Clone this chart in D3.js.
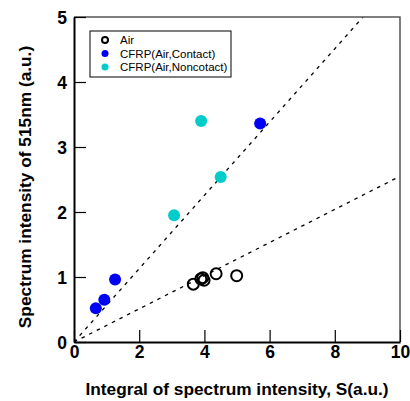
<!doctype html>
<html>
<head>
<meta charset="utf-8">
<script src="https://cdn.jsdelivr.net/npm/d3@7"></script>
<style>
  html, body { margin: 0; background: #fff; }
  svg { font-family: "Liberation Sans", Arial, sans-serif; }
</style>
</head>
<body>
<div id="chart"></div>
<script>
// data
const airX = [3.66, 3.89, 3.99, 3.95, 4.36, 4.99];
const airY = [0.89, 0.97, 0.95, 0.99, 1.05, 1.02];
const contactX = [0.67, 0.93, 1.26, 5.71];
const contactY = [0.52, 0.65, 0.96, 3.36];
const noncontactX = [3.07, 4.50, 3.90];
const noncontactY = [1.95, 2.54, 3.40];
const fitSlopes = [0.564, 0.255];
const xTicks = [0, 2, 4, 6, 8, 10];
const yTicks = [0, 1, 2, 3, 4, 5];
const legendNames = ["Air", "CFRP(Air,Contact)", "CFRP(Air,Noncotact)"];

const width = 410, height = 401;
const margin = {left: 74, right: 10, top: 17, bottom: 59};

const svg = d3.select("#chart").append("svg")
    .attr("width", width)
    .attr("height", height);

const x = d3.scaleLinear().domain([0, 10]).range([margin.left, width - margin.right]);
const y = d3.scaleLinear().domain([0, 5]).range([height - margin.bottom, margin.top]);

// fit lines through origin, clipped to plot
svg.append("clipPath").attr("id", "plot")
  .append("rect")
    .attr("x", x(0)).attr("y", y(5))
    .attr("width", x(10) - x(0)).attr("height", y(0) - y(5));

const line = d3.line().x(d => x(d[0])).y(d => y(d[1]));
svg.append("g").attr("clip-path", "url(#plot)")
  .selectAll("path")
  .data(fitSlopes)
  .join("path")
    .attr("d", k => line([[0, 0], [10, 10 * k]]))
    .attr("fill", "none")
    .attr("stroke", "#000")
    .attr("stroke-width", 1.3)
    .attr("stroke-dasharray", "3.5,5");

// frame: top and right lighter
svg.append("path")
    .attr("d", `M${x(0)},${y(5)}H${x(10)}V${y(0)}`)
    .attr("fill", "none")
    .attr("stroke", "#555")
    .attr("stroke-width", 1.5);

// axes with inward ticks
const fmt = d3.format("d");
const xAxis = svg.append("g")
    .attr("transform", `translate(0,${y(0)})`)
    .call(d3.axisBottom(x).tickValues(xTicks).tickFormat(fmt).tickSize(-12).tickPadding(16).tickSizeOuter(0));
const yAxis = svg.append("g")
    .attr("transform", `translate(${x(0)},0)`)
    .call(d3.axisLeft(y).tickValues(yTicks).tickFormat(fmt).tickSize(-12).tickPadding(18).tickSizeOuter(0));

for (const ax of [xAxis, yAxis]) {
  ax.attr("font-family", null);
  ax.select(".domain").attr("stroke", "#000").attr("stroke-width", 2);
  ax.selectAll(".tick line").attr("stroke", "#000").attr("stroke-width", 1.2);
  ax.selectAll(".tick text")
      .attr("fill", "#000")
      .style("font-size", "17.5px")
      .style("font-weight", "bold");
}
xAxis.selectAll(".tick text").attr("y", 3).attr("dy", "0.75em");
yAxis.selectAll(".tick text").attr("x", -7).attr("dy", "0.36em");

// axis titles
svg.append("text")
    .attr("x", 237).attr("y", 395)
    .attr("text-anchor", "middle")
    .style("font-size", "17.3px").style("font-weight", "bold")
    .text("Integral of spectrum intensity, S(a.u.)");
svg.append("text")
    .attr("transform", "translate(31,187) rotate(-90)")
    .attr("text-anchor", "middle")
    .style("font-size", "17.3px").style("font-weight", "bold")
    .text("Spectrum intensity of 515nm (a.u.)");

// points
svg.append("g").selectAll("circle")
  .data(airX.map((v, i) => [v, airY[i]]))
  .join("circle")
    .attr("cx", d => x(d[0])).attr("cy", d => y(d[1]))
    .attr("r", 5.5)
    .attr("fill", "none")
    .attr("stroke", "#000")
    .attr("stroke-width", 2);

svg.append("g").selectAll("circle")
  .data(contactX.map((v, i) => [v, contactY[i]]))
  .join("circle")
    .attr("cx", d => x(d[0])).attr("cy", d => y(d[1]))
    .attr("r", 6)
    .attr("fill", "#0000f5");

svg.append("g").selectAll("circle")
  .data(noncontactX.map((v, i) => [v, noncontactY[i]]))
  .join("circle")
    .attr("cx", d => x(d[0])).attr("cy", d => y(d[1]))
    .attr("r", 6)
    .attr("fill", "#00cccc");

// legend
const legend = svg.append("g").attr("transform", "translate(90,31)");
legend.append("rect")
    .attr("width", 141).attr("height", 46)
    .attr("fill", "#fff")
    .attr("stroke", "#000")
    .attr("stroke-width", 1);
const item = legend.selectAll("g.item")
  .data(legendNames)
  .join("g")
    .attr("class", "item")
    .attr("transform", (d, i) => `translate(0,${9 + i * 13.5})`);
item.append("circle")
    .attr("cx", 15).attr("cy", 0)
    .attr("r", (d, i) => i === 0 ? 3 : 3.5)
    .attr("fill", (d, i) => i === 0 ? "none" : i === 1 ? "#0000f5" : "#00cccc")
    .attr("stroke", (d, i) => i === 0 ? "#000" : "none")
    .attr("stroke-width", 2);
item.append("text")
    .attr("x", 30).attr("dy", "0.35em")
    .style("font-size", "11.5px")
    .text(d => d);
</script>
</body>
</html>
